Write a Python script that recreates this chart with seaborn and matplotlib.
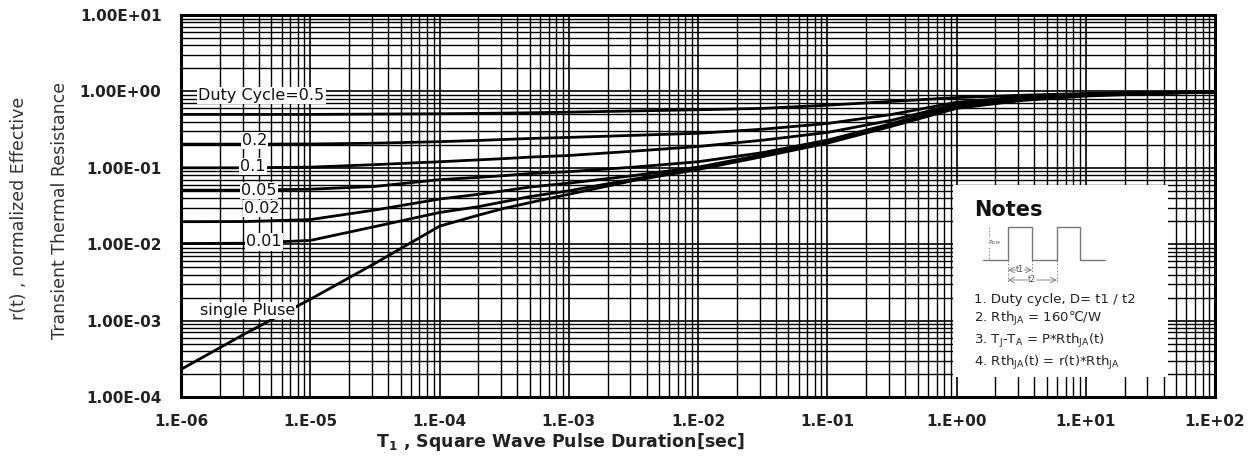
import numpy as np
import pandas as pd
import matplotlib
matplotlib.use("Agg")
import matplotlib.pyplot as plt
from matplotlib.ticker import FixedLocator, LogLocator, NullFormatter, FixedFormatter
import seaborn as sns

# ---------------- data ----------------
pulse_sec = [1e-6, 3.16e-6, 1e-5, 3.16e-5, 1e-4, 2e-4, 3.16e-4, 5e-4, 1e-3, 3.16e-3, 1e-2,
             3.16e-2, 1e-1, 3.16e-1, 1.0, 3.16, 10.0, 31.6, 100.0]

r_d050 = [0.50, 0.50, 0.50, 0.505, 0.51, 0.515, 0.52, 0.525, 0.535, 0.555, 0.575, 0.60, 0.66, 0.74, 0.83, 0.89, 0.94, 0.97, 0.99]
r_d020 = [0.204, 0.204, 0.205, 0.21, 0.22, 0.228, 0.235, 0.242, 0.25, 0.266, 0.283, 0.32, 0.38, 0.50, 0.72, 0.85, 0.92, 0.96, 0.99]
r_d010 = [0.100, 0.100, 0.102, 0.11, 0.12, 0.127, 0.132, 0.138, 0.145, 0.165, 0.19, 0.23, 0.29, 0.42, 0.68, 0.83, 0.91, 0.96, 0.98]
r_d005 = [0.051, 0.051, 0.0525, 0.057, 0.070, 0.075, 0.079, 0.084, 0.089, 0.102, 0.12, 0.158, 0.23, 0.38, 0.65, 0.81, 0.90, 0.95, 0.98]
r_d002 = [0.0197, 0.0198, 0.021, 0.028, 0.039, 0.045, 0.050, 0.056, 0.063, 0.079, 0.102, 0.148, 0.22, 0.37, 0.63, 0.79, 0.89, 0.95, 0.98]
r_d001 = [0.0102, 0.0103, 0.0112, 0.017, 0.026, 0.031, 0.036, 0.042, 0.050, 0.071, 0.098, 0.145, 0.215, 0.36, 0.615, 0.775, 0.89, 0.95, 0.98]
r_single = [2.3e-4, 6.8e-4, 1.9e-3, 5.6e-3, 0.0172, 0.024, 0.0295, 0.035, 0.045, 0.068, 0.095, 0.14, 0.21, 0.35, 0.60, 0.76, 0.87, 0.93, 0.98]

series_names = ["0.5", "0.2", "0.1", "0.05", "0.02", "0.01", "single"]
series_values = [r_d050, r_d020, r_d010, r_d005, r_d002, r_d001, r_single]

curve_labels = ["Duty Cycle=0.5", "0.2", "0.1", "0.05", "0.02", "0.01", "single Pluse"]
curve_label_x = [4.2e-6, 3.7e-6, 3.6e-6, 4.0e-6, 4.2e-6, 4.4e-6, 3.25e-6]
curve_label_y = [0.89, 0.23, 0.105, 0.051, 0.029, 0.0107, 1.35e-3]

x_ticks = [1e-6, 1e-5, 1e-4, 1e-3, 1e-2, 1e-1, 1e0, 1e1, 1e2]
x_tick_labels = ["1.E-06", "1.E-05", "1.E-04", "1.E-03", "1.E-02", "1.E-01", "1.E+00", "1.E+01", "1.E+02"]
y_ticks = [1e-4, 1e-3, 1e-2, 1e-1, 1e0, 1e1]
y_tick_labels = ["1.00E-04", "1.00E-03", "1.00E-02", "1.00E-01", "1.00E+00", "1.00E+01"]

notes_lines = [
    "1. Duty cycle, D= t1 / t2",
    r"2. Rth$_{\mathregular{JA}}$ = 160℃/W",
    r"3. T$_{\mathregular{J}}$-T$_{\mathregular{A}}$ = P*Rth$_{\mathregular{JA}}$(t)",
    r"4. Rth$_{\mathregular{JA}}$(t) = r(t)*Rth$_{\mathregular{JA}}$",
]

# ---------------- style ----------------
sns.set_style("white")
plt.rcParams["font.family"] = ["DejaVu Sans"]
plt.rcParams["mathtext.fontset"] = "dejavusans"

df = pd.concat(
    [pd.DataFrame({"t": pulse_sec, "r": vals, "D": name}) for name, vals in zip(series_names, series_values)],
    ignore_index=True,
)

fig = plt.figure(figsize=(12.56, 4.62), dpi=100)
ax = fig.add_axes([0.1441, 0.1407, 0.8233, 0.8268])

sns.lineplot(data=df, x="t", y="r", hue="D", palette=["black"] * len(series_names),
             linewidth=2.0, legend=False, ax=ax, zorder=4, estimator=None, sort=True)

ax.set_xscale("log")
ax.set_yscale("log")
ax.set_xlim(1e-6, 1e2)
ax.set_ylim(1e-4, 1e1)

ax.xaxis.set_major_locator(FixedLocator(x_ticks))
ax.xaxis.set_major_formatter(FixedFormatter(x_tick_labels))
ax.yaxis.set_major_locator(FixedLocator(y_ticks))
ax.yaxis.set_major_formatter(FixedFormatter(y_tick_labels))
ax.xaxis.set_minor_locator(LogLocator(base=10, subs=np.arange(2, 10), numticks=100))
ax.yaxis.set_minor_locator(LogLocator(base=10, subs=np.arange(2, 10), numticks=100))
ax.xaxis.set_minor_formatter(NullFormatter())
ax.yaxis.set_minor_formatter(NullFormatter())

ax.grid(True, which="major", color="black", linewidth=1.2, zorder=1)
ax.grid(True, which="minor", color="black", linewidth=1.0, zorder=1)
ax.set_axisbelow(True)
ax.tick_params(which="both", length=0)
ax.tick_params(axis="x", pad=12, labelsize=11, labelcolor="#222222")
ax.tick_params(axis="y", pad=14, labelsize=11, labelcolor="#222222")
for lab in ax.get_xticklabels() + ax.get_yticklabels():
    lab.set_fontweight("bold")
for s in ax.spines.values():
    s.set_color("black")
    s.set_linewidth(2.2)
    s.set_zorder(6)

ax.set_xlabel(r"T$_{\mathbf{1}}$ , Square Wave Pulse Duration[sec]", fontsize=12.5, fontweight="bold",
              labelpad=6, color="#222222")
ax.xaxis.set_label_coords(0.367, -0.09)
ax.xaxis.label.set_va("top")
ax.set_ylabel("")

# y label in two separate lines
fig.text(0.0155, 0.55, "r(t) , normalized Effective", rotation=90, ha="center", va="center",
         fontsize=12.5, color="#333333")
fig.text(0.048, 0.544, "Transient Thermal Resistance", rotation=90, ha="center", va="center",
         fontsize=12.5, color="#333333")

# curve labels
for txt, lx, ly in zip(curve_labels, curve_label_x, curve_label_y):
    ax.text(lx, ly, txt, ha="center", va="center", fontsize=11.5, color="#111111", zorder=7,
            bbox=dict(facecolor="white", edgecolor="none", pad=0.8))

# ---------------- notes box ----------------
nx = fig.add_axes([953 / 1256, 1 - 377 / 462, 215 / 1256, 192 / 462])
nx.set_xlim(0, 215)
nx.set_ylim(192, 0)
nx.set_facecolor("white")
for s in nx.spines.values():
    s.set_visible(False)
nx.set_xticks([])
nx.set_yticks([])

nx.text(21, 25, "Notes", fontsize=15, fontweight="bold", ha="left", va="center", color="#111111")
wave_x = [30, 55, 55, 79, 79, 104, 104, 127, 127, 152]
wave_y = [75, 75, 42, 42, 75, 75, 42, 42, 75, 75]
nx.plot(wave_x, wave_y, color="#777777", lw=1.0)
nx.plot([36, 36], [42, 75], color="#777777", lw=0.6, ls=(0, (2, 2)))
nx.text(41, 58, r"P$_{\mathregular{DM}}$", fontsize=4.5, ha="center", va="center", color="#444444",
        bbox=dict(facecolor="white", edgecolor="none", pad=0.2))
nx.plot([55, 55], [75, 97], color="#777777", lw=0.6, ls=(0, (2, 2)))
nx.plot([79, 79], [75, 88], color="#777777", lw=0.6, ls=(0, (2, 2)))
nx.plot([104, 104], [75, 97], color="#777777", lw=0.6, ls=(0, (2, 2)))
nx.annotate("", xy=(55, 85), xytext=(79, 85), arrowprops=dict(arrowstyle="<->", color="#777777", lw=0.6, shrinkA=0, shrinkB=0))
nx.annotate("", xy=(55, 95), xytext=(104, 95), arrowprops=dict(arrowstyle="<->", color="#777777", lw=0.6, shrinkA=0, shrinkB=0))
nx.text(67, 85, "t1", fontsize=5.5, ha="center", va="center", color="#444444",
        bbox=dict(facecolor="white", edgecolor="none", pad=0.3))
nx.text(79, 95, "t2", fontsize=5.5, ha="center", va="center", color="#444444",
        bbox=dict(facecolor="white", edgecolor="none", pad=0.3))

for i, line in enumerate(notes_lines):
    nx.text(21, [115, 134, 156, 178][i], line, fontsize=9.5, ha="left", va="center", color="#222222")

fig.savefig("out.png", dpi=100)
